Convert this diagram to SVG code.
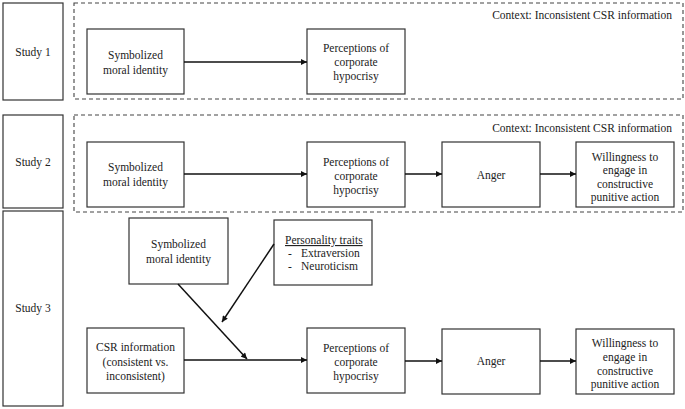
<svg xmlns="http://www.w3.org/2000/svg" width="685" height="409" viewBox="0 0 685 409">
<style>
  .box{fill:#fff;stroke:#333;stroke-width:1.2}
  .dash{fill:none;stroke:#444;stroke-width:1.1;stroke-dasharray:4 3}
  .t{font-family:"Liberation Serif","Times New Roman",serif;font-size:11.5px;fill:#222;text-anchor:middle}
  .c{font-family:"Liberation Serif","Times New Roman",serif;font-size:11.5px;fill:#222;text-anchor:end}
  .l{font-family:"Liberation Serif","Times New Roman",serif;font-size:11.5px;fill:#222}
  .e{fill:none;stroke:#111;stroke-width:1.5}
</style>
<defs>
  <marker id="ah" viewBox="0 0 10 10" refX="10" refY="5" markerWidth="7" markerHeight="6" markerUnits="userSpaceOnUse" orient="auto">
    <path d="M0,0 L10,5 L0,10 z" fill="#111"/>
  </marker>
</defs>
<rect width="685" height="409" fill="#fff"/>
<g id="study1"><rect class="box" x="3" y="3" width="60" height="97"/><text class="t" x="33" y="56">Study 1</text></g>
<g id="study2"><rect class="box" x="3" y="115" width="60" height="93"/><text class="t" x="33" y="166">Study 2</text></g>
<g id="study3"><rect class="box" x="3" y="211" width="60" height="195"/><text class="t" x="33" y="312">Study 3</text></g>
<g id="context1"><rect class="dash" x="74" y="3" width="609" height="96"/><text class="c" x="672" y="19">Context: Inconsistent CSR information</text></g>
<g id="context2"><rect class="dash" x="74" y="115" width="609" height="97"/><text class="c" x="672" y="132">Context: Inconsistent CSR information</text></g>
<g id="s1-smi"><rect class="box" x="87" y="29" width="97" height="65"/><text class="t" x="135.5" y="59">Symbolized</text><text class="t" x="135.5" y="74">moral identity</text></g>
<g id="s1-pch"><rect class="box" x="307" y="29" width="98" height="65"/><text class="t" x="356" y="52">Perceptions of</text><text class="t" x="356" y="66">corporate</text><text class="t" x="356" y="80">hypocrisy</text></g>
<g id="s2-smi"><rect class="box" x="87" y="142" width="97" height="65"/><text class="t" x="135.5" y="171">Symbolized</text><text class="t" x="135.5" y="186">moral identity</text></g>
<g id="s2-pch"><rect class="box" x="307" y="142" width="98" height="65"/><text class="t" x="356" y="166">Perceptions of</text><text class="t" x="356" y="180">corporate</text><text class="t" x="356" y="194">hypocrisy</text></g>
<g id="s2-anger"><rect class="box" x="442" y="142" width="98" height="65"/><text class="t" x="491" y="179">Anger</text></g>
<g id="s2-will"><rect class="box" x="576" y="142" width="98" height="65"/><text class="t" x="625" y="161">Willingness to</text><text class="t" x="625" y="174">engage in</text><text class="t" x="625" y="188">constructive</text><text class="t" x="625" y="201">punitive action</text></g>
<g id="s3-smi"><rect class="box" x="129" y="218" width="99" height="66"/><text class="t" x="178.5" y="248">Symbolized</text><text class="t" x="178.5" y="263">moral identity</text></g>
<g id="s3-pers"><rect class="box" x="274" y="220" width="98" height="65"/><text class="l" x="285" y="244" text-decoration="underline">Personality traits</text><text class="l" x="288" y="257">-</text><text class="l" x="301" y="257">Extraversion</text><text class="l" x="288" y="270">-</text><text class="l" x="301" y="270">Neuroticism</text></g>
<g id="s3-csr"><rect class="box" x="87" y="328" width="97" height="65"/><text class="t" x="135.5" y="351">CSR information</text><text class="t" x="135.5" y="366">(consistent vs.</text><text class="t" x="135.5" y="380">inconsistent)</text></g>
<g id="s3-pch"><rect class="box" x="307" y="328" width="98" height="65"/><text class="t" x="356" y="352">Perceptions of</text><text class="t" x="356" y="366">corporate</text><text class="t" x="356" y="380">hypocrisy</text></g>
<g id="s3-anger"><rect class="box" x="442" y="329" width="98" height="65"/><text class="t" x="491" y="365">Anger</text></g>
<g id="s3-will"><rect class="box" x="576" y="329" width="98" height="65"/><text class="t" x="625" y="347">Willingness to</text><text class="t" x="625" y="361">engage in</text><text class="t" x="625" y="375">constructive</text><text class="t" x="625" y="388">punitive action</text></g>
<g id="connectors">
  <line class="e" x1="184" y1="62" x2="307" y2="62" marker-end="url(#ah)"/>
  <line class="e" x1="184" y1="174" x2="307" y2="174" marker-end="url(#ah)"/>
  <line class="e" x1="405" y1="174" x2="442" y2="174" marker-end="url(#ah)"/>
  <line class="e" x1="540" y1="174" x2="576" y2="174" marker-end="url(#ah)"/>
  <line class="e" x1="184" y1="360" x2="307" y2="360" marker-end="url(#ah)"/>
  <line class="e" x1="405" y1="361" x2="442" y2="361" marker-end="url(#ah)"/>
  <line class="e" x1="540" y1="361" x2="576" y2="361" marker-end="url(#ah)"/>
  <line class="e" x1="178" y1="284" x2="247" y2="359" marker-end="url(#ah)"/>
  <line class="e" x1="274" y1="244" x2="222" y2="322" marker-end="url(#ah)"/>
</g>
</svg>
